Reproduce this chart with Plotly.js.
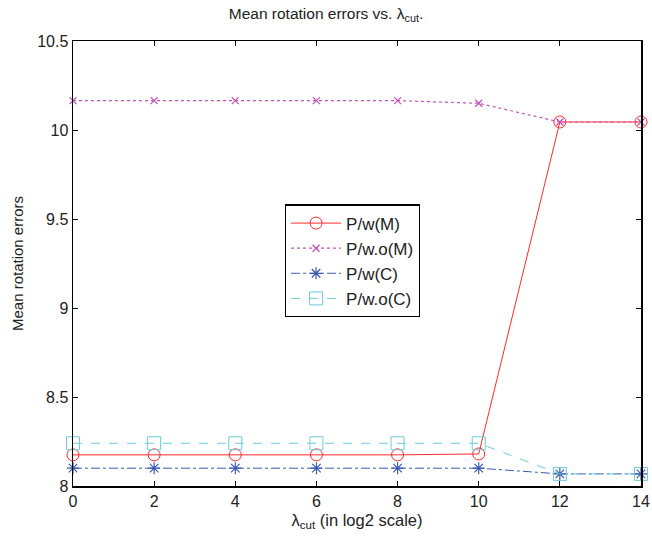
<!DOCTYPE html>
<html>
<head>
<meta charset="utf-8">
<script src="https://cdn.plot.ly/plotly-3.0.1.min.js"></script>
<style>html,body{margin:0;padding:0;background:#fff;}#chart{width:652px;height:544px;}</style>
</head>
<body>
<div id="chart"></div>
<script>
const lambdaCut = [0, 2, 4, 6, 8, 10, 12, 14];
const pwM  = [8.175, 8.175, 8.175, 8.175, 8.175, 8.18, 10.045, 10.045];
const pwoM = [10.165, 10.165, 10.165, 10.165, 10.165, 10.15, 10.045, 10.045];
const pwC  = [8.10, 8.10, 8.10, 8.10, 8.10, 8.10, 8.068, 8.068];
const pwoC = [8.24, 8.24, 8.24, 8.24, 8.24, 8.24, 8.068, 8.068];
const names = ['P/w(M)', 'P/w.o(M)', 'P/w(C)', 'P/w.o(C)'];
const xTicks = [0, 2, 4, 6, 8, 10, 12, 14];
const yTicks = [8, 8.5, 9, 9.5, 10, 10.5];

const traces = [
  {x: lambdaCut, y: pwM, name: names[0], mode: 'lines+markers',
   line: {color: '#ff2a2a', width: 1, dash: 'solid'},
   marker: {symbol: 'circle-open', size: 12, color: '#ff2a2a', line: {width: 1}}},
  {x: lambdaCut, y: pwoM, name: names[1], mode: 'lines+markers',
   line: {color: '#c455b8', width: 1.2, dash: 'dot'},
   marker: {symbol: 'x-thin-open', size: 7, color: '#c455b8', line: {width: 1.3}}},
  {x: lambdaCut, y: pwC, name: names[2], mode: 'lines+markers',
   line: {color: '#3a5bb0', width: 1, dash: 'dashdot'},
   marker: {symbol: 'asterisk-open', size: 10, color: '#3a5bb0', line: {width: 1.2}}},
  {x: lambdaCut, y: pwoC, name: names[3], mode: 'lines+markers',
   line: {color: '#6ccbdc', width: 1, dash: 'dash'},
   marker: {symbol: 'square-open', size: 13, color: '#6ccbdc', line: {width: 1}}}
].map(t => Object.assign(t, {cliponaxis: false}));

const axisCommon = {
  showline: true, linecolor: '#000', linewidth: 1.5, mirror: 'ticks',
  ticks: 'inside', ticklen: 5, tickcolor: '#000', tickwidth: 1,
  showgrid: false, zeroline: false,
  tickfont: {family: 'Liberation Sans, Arial, sans-serif', size: 16, color: '#222'}
};

const layout = {
  width: 652, height: 544,
  margin: {l: 73, r: 11, t: 41, b: 58},
  paper_bgcolor: '#fff', plot_bgcolor: '#fff',
  font: {family: 'Liberation Sans, Arial, sans-serif', color: '#222'},
  title: {text: 'Mean rotation errors vs. λ<sub>cut</sub>.', x: 0.5, xanchor: 'center', y: 0.975, yanchor: 'middle',
          font: {size: 15.5, color: '#222'}},
  xaxis: Object.assign({}, axisCommon, {
    range: [0, 14], tickvals: xTicks, ticktext: xTicks.map(String),
    title: {text: 'λ<sub>cut</sub> (in log2 scale)', font: {size: 16.5}, standoff: 5}
  }),
  yaxis: Object.assign({}, axisCommon, {
    range: [8, 10.5], tickvals: yTicks, ticktext: yTicks.map(String),
    title: {text: 'Mean rotation errors', font: {size: 15}, standoff: 10}
  }),
  showlegend: true,
  legend: {
    x: 0.373, xanchor: 'left', y: 0.506, yanchor: 'middle',
    bgcolor: '#fff', bordercolor: '#000', borderwidth: 1.2,
    font: {size: 17, color: '#222'}, tracegroupgap: 0, itemwidth: 50
  }
};

Plotly.newPlot('chart', traces, layout, {displayModeBar: false, staticPlot: true});
</script>
</body>
</html>
